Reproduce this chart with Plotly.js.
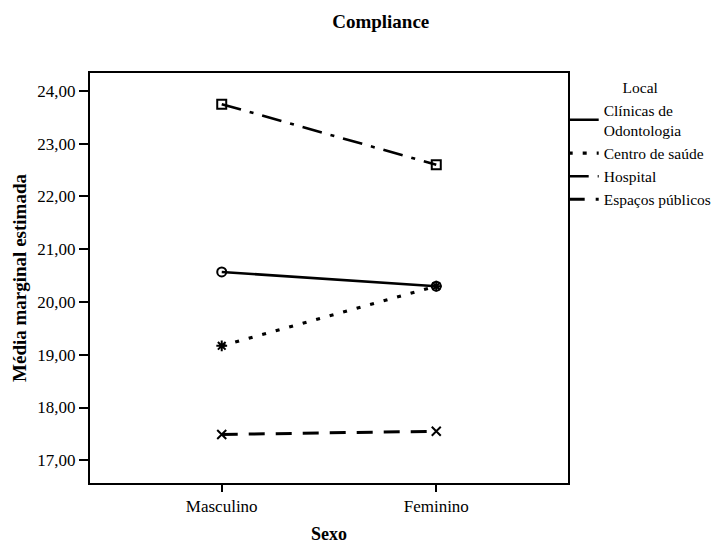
<!DOCTYPE html>
<html>
<head>
<meta charset="utf-8">
<script src="https://cdn.plot.ly/plotly-3.0.1.min.js"></script>
<style>
  html, body { margin: 0; padding: 0; background: #fff; }
  #chart { width: 717px; height: 550px; }
</style>
</head>
<body>
<div id="chart"></div>
<script>
// Estimated marginal means of Compliance by sex, one line per location
const sexo = ['Masculino', 'Feminino'];
const locais = ['Clínicas de<br>Odontologia', 'Centro de saúde', 'Hospital', 'Espaços públicos'];
const clinicas = [20.57, 20.30];
const centroSaude = [19.17, 20.30];
const hospital = [23.75, 22.60];
const espacosPublicos = [17.49, 17.55];
const yTicks = [17, 18, 19, 20, 21, 22, 23, 24];

const series = [clinicas, centroSaude, hospital, espacosPublicos];
const dashes = ['solid', '4px,10px', '20px,9px,4px,9px', '16px,11px'];
const symbols = ['circle-open', 'asterisk-open', 'square-open', 'x-thin-open'];
const widths = [2.6, 3.2, 2.6, 3];

const traces = [];
series.forEach((vals, i) => {
  // line (shown in legend)
  traces.push({
    x: sexo, y: vals, name: locais[i], type: 'scatter', mode: 'lines',
    line: { color: '#000', width: widths[i], dash: dashes[i] },
    legendrank: i + 1, hoverinfo: 'skip'
  });
});
series.forEach((vals, i) => {
  // point markers
  traces.push({
    x: sexo, y: vals, type: 'scatter', mode: 'markers', showlegend: false,
    marker: { symbol: symbols[i], size: 9, color: '#000', line: { width: 2, color: '#000' } }
  });
});

const serif = 'Liberation Serif, Times New Roman, serif';

const layout = {
  width: 717, height: 550,
  margin: { l: 90, r: 149, t: 73, b: 67, autoexpand: false },
  paper_bgcolor: '#fff', plot_bgcolor: '#fff',
  separators: ',.',
  font: { family: serif, color: '#000', size: 17 },
  title: {
    text: '<b>Compliance</b>', font: { family: serif, size: 19, color: '#000' },
    x: 0.531, xref: 'container', xanchor: 'center', y: 0.962, yanchor: 'middle'
  },
  xaxis: {
    type: 'category', range: [-0.614, 1.614],
    showline: true, mirror: true, linecolor: '#000', linewidth: 2,
    ticks: 'outside', ticklen: 7, tickwidth: 2, tickcolor: '#000',
    showgrid: false, zeroline: false,
    tickfont: { family: serif, size: 17, color: '#000' },
    title: { text: '<b>Sexo</b>', font: { family: serif, size: 18, color: '#000' }, standoff: 12 }
  },
  yaxis: {
    range: [16.57, 24.34], tickvals: yTicks, tickformat: '.2f',
    showline: true, mirror: true, linecolor: '#000', linewidth: 2,
    ticks: 'outside', ticklen: 9, tickwidth: 2, tickcolor: '#000',
    showgrid: false, zeroline: false,
    tickfont: { family: serif, size: 17, color: '#000' },
    title: { text: '<b>Média marginal estimada</b>', font: { family: serif, size: 19, color: '#000' }, standoff: 6 }
  },
  legend: {
    x: 0.991, xanchor: 'left', y: 1.0, yanchor: 'top',
    font: { family: serif, size: 15.5, color: '#000' },
    title: { text: 'Local', side: 'top center', font: { family: serif, size: 15.5, color: '#000' } },
    itemwidth: 30, tracegroupgap: 0, bgcolor: 'rgba(0,0,0,0)', borderwidth: 0
  },
  showlegend: true
};

Plotly.newPlot('chart', traces, layout, { displayModeBar: false, staticPlot: true });
</script>
</body>
</html>
